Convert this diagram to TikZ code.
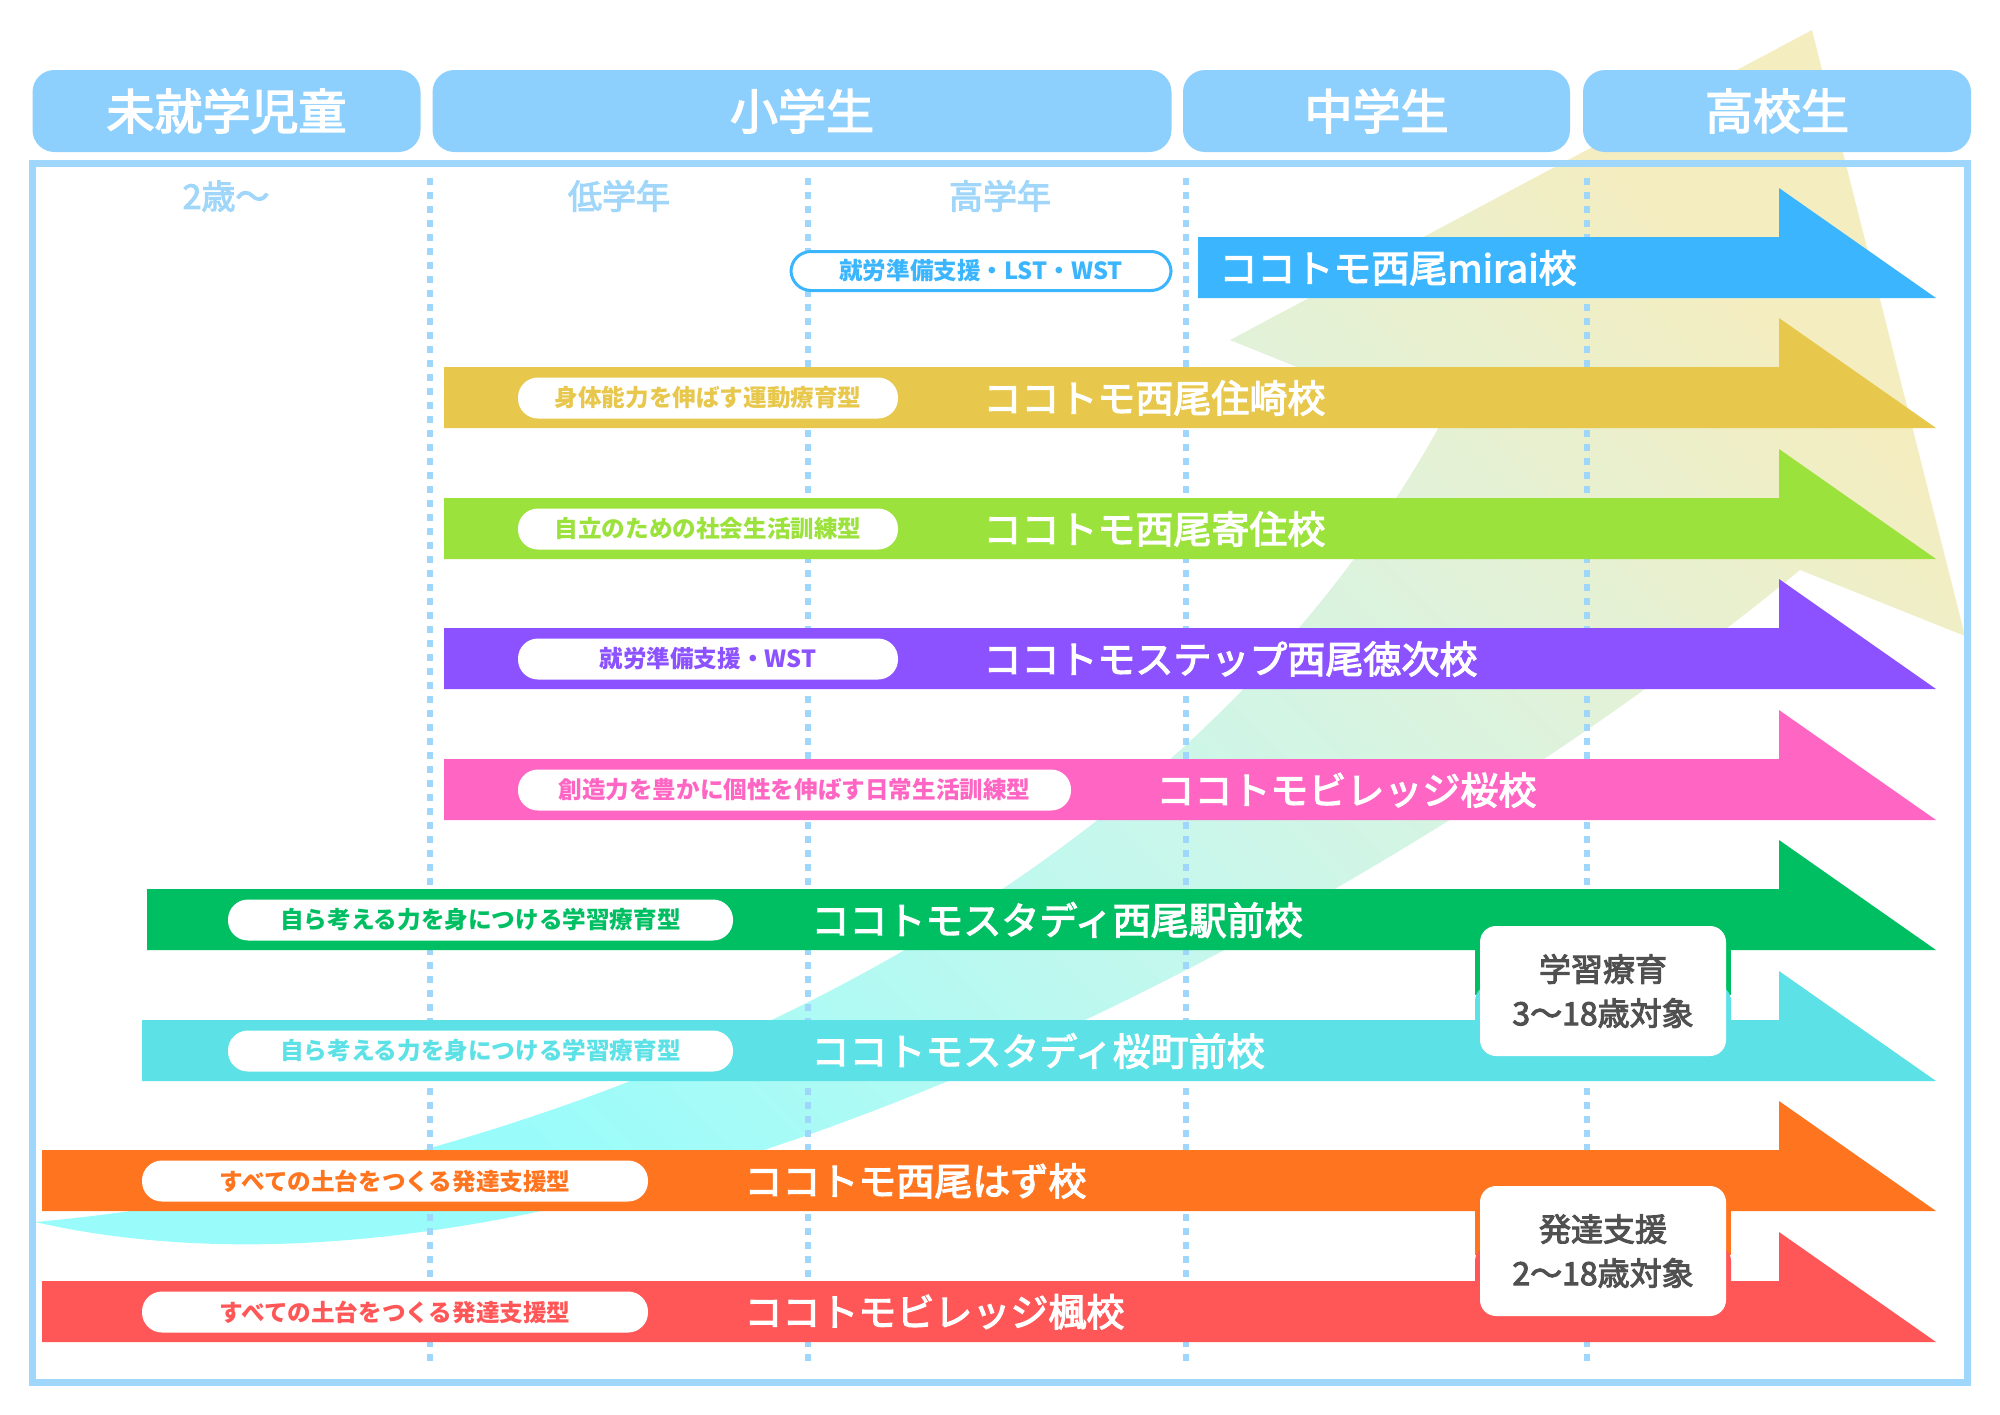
\documentclass[tikz,border=0pt]{standalone}
\usepackage{fontspec}
\setmainfont{Noto Sans CJK JP}
\newfontfamily\medfont{Noto Sans CJK JP}[FakeBold=3]
\usepackage{tikz}
\definecolor{hdrblue}{RGB}{142,208,253}
\definecolor{framblue}{RGB}{158,214,252}
\definecolor{lblblue}{RGB}{160,214,250}
\definecolor{miraiblue}{RGB}{59,182,254}
\definecolor{sumiyellow}{RGB}{232,200,76}
\definecolor{yorilime}{RGB}{156,226,60}
\definecolor{steppurple}{RGB}{140,82,255}
\definecolor{sakurapink}{RGB}{255,102,196}
\definecolor{ekigreen}{RGB}{0,191,99}
\definecolor{machicyan}{RGB}{92,225,230}
\definecolor{hazuorange}{RGB}{255,117,31}
\definecolor{kaedered}{RGB}{255,87,87}
\definecolor{boxgray}{RGB}{80,80,80}
\definecolor{swcyan}{RGB}{154,252,250}
\definecolor{swmint}{RGB}{200,247,236}
\definecolor{swgreen}{RGB}{224,242,218}
\definecolor{swyellow}{RGB}{244,237,192}
\pgfdeclarehorizontalshading{growth}{100bp}{color(0bp)=(swcyan); color(30bp)=(swcyan);
  color(50bp)=(swmint); color(62bp)=(swgreen); color(75bp)=(swyellow); color(100bp)=(swyellow)}

\begin{document}
\begin{tikzpicture}[x=0.5pt, y=-0.5pt,
  hdr/.style={fill=hdrblue, rounded corners=11pt, minimum height=41pt, inner sep=0pt,
              text=white, font=\medfont\fontsize{24}{24}\selectfont},
  collbl/.style={text=lblblue, inner sep=0pt, font=\medfont\fontsize{17}{17}\selectfont},
  stage/.style={draw=framblue, line width=3pt, dash pattern=on 3.5pt off 3.5pt},
  pill/.style={fill=white, rounded corners=10pt, minimum height=20.5pt, inner sep=0pt,
               font=\bfseries\fontsize{11.8}{12}\selectfont},
  ttl/.style={anchor=west, text=white, inner sep=0pt, font=\medfont\fontsize{19}{19}\selectfont},
  agebox/.style={fill=white, rounded corners=8pt, minimum width=123pt, minimum height=65pt,
                 align=center, text=boxgray, font=\medfont\fontsize{16}{22}\selectfont}]
  \useasboundingbox (0,0) rectangle (2000,1414);

  % growth swoosh in the background
  \shade[shading=growth, shading angle=45] (1812,30) -- (1965,636) -- (1800,570)
    .. controls (1400,900) and (600,1350) .. (35,1222)
    .. controls (500,1180) and (1150,950) .. (1440,425) -- (1230,340) -- cycle;

  % frame and school stages
  \draw[framblue, line width=3.5pt] (32,163) rectangle (1967,1382);
  \node[hdr, minimum width=194pt] (hdrpre) at (226.5,111) {未就学児童};
  \node[hdr, minimum width=369.5pt] (hdrelem) at (802,111) {小学生};
  \node[hdr, minimum width=193.5pt] (hdrjun) at (1376.5,111) {中学生};
  \node[hdr, minimum width=194pt] (hdrhigh) at (1777,111) {高校生};

  \node[collbl] (age2) at (226,196) {2歳～};
  \node[collbl] (lower) at (619,196) {低学年};
  \node[collbl] (upper) at (1000,196) {高学年};

  \coordinate (d1t) at (430,178);  \coordinate (d1b) at (430,1368);
  \coordinate (d2t) at (808,178);  \coordinate (d2b) at (808,1368);
  \coordinate (d3t) at (1186,178); \coordinate (d3b) at (1186,1368);
  \coordinate (d4t) at (1587,178); \coordinate (d4b) at (1587,1368);
  \draw[stage] (d1t) -- (d1b);
  \draw[stage] (d2t) -- (d2b);
  \draw[stage] (d3t) -- (d3b);
  \draw[stage] (d4t) -- (d4b);

  % school arrows
  \fill[miraiblue] (1198,237) -- (1779,237) -- (1779,188) -- (1936,298) -- (1198,298) -- cycle;
  \fill[sumiyellow] (444,367) -- (1779,367) -- (1779,318) -- (1936,428) -- (444,428) -- cycle;
  \fill[yorilime] (444,498) -- (1779,498) -- (1779,449) -- (1936,559) -- (444,559) -- cycle;
  \fill[steppurple] (444,628) -- (1779,628) -- (1779,579) -- (1936,689) -- (444,689) -- cycle;
  \fill[sakurapink] (444,759) -- (1779,759) -- (1779,710) -- (1936,820) -- (444,820) -- cycle;
  \fill[ekigreen] (147,889) -- (1779,889) -- (1779,840) -- (1936,950) -- (147,950) -- cycle;
  \fill[machicyan] (142,1020) -- (1779,1020) -- (1779,971) -- (1936,1081) -- (142,1081) -- cycle;
  \fill[hazuorange] (42,1150) -- (1779,1150) -- (1779,1101) -- (1936,1211) -- (42,1211) -- cycle;
  \fill[kaedered] (42,1281) -- (1779,1281) -- (1779,1232) -- (1936,1342) -- (42,1342) -- cycle;

  % programme pills
  \node[pill, draw=miraiblue, line width=1.5pt, minimum width=190pt, minimum height=19.5pt,
        text=miraiblue] (pmirai) at (981,271) {就労準備支援・LST・WST};
  \node[pill, minimum width=190pt, text=sumiyellow] (psumi) at (708,398) {身体能力を伸ばす運動療育型};
  \node[pill, minimum width=190pt, text=yorilime] (pyori) at (708,529) {自立のための社会生活訓練型};
  \node[pill, minimum width=190pt, text=steppurple] (pstep) at (708,659) {就労準備支援・WST};
  \node[pill, minimum width=276.5pt, text=sakurapink] (psakura) at (794.5,790) {創造力を豊かに個性を伸ばす日常生活訓練型};
  \node[pill, minimum width=252.5pt, text=ekigreen] (peki) at (480.5,920) {自ら考える力を身につける学習療育型};
  \node[pill, minimum width=252.5pt, text=machicyan] (pmachi) at (480.5,1051) {自ら考える力を身につける学習療育型};
  \node[pill, minimum width=253pt, text=hazuorange] (phazu) at (395,1181) {すべての土台をつくる発達支援型};
  \node[pill, minimum width=253pt, text=kaedered] (pkaede) at (395,1312) {すべての土台をつくる発達支援型};

  % school names
  \node[ttl] (tmirai) at (1219,268) {ココトモ西尾mirai校};
  \node[ttl] (tsumi) at (983,398) {ココトモ西尾住崎校};
  \node[ttl] (tyori) at (983,529) {ココトモ西尾寄住校};
  \node[ttl] (tstep) at (983,659) {ココトモステップ西尾徳次校};
  \node[ttl] (tsakura) at (1156,790) {ココトモビレッジ桜校};
  \node[ttl] (teki) at (811,920) {ココトモスタディ西尾駅前校};
  \node[ttl] (tmachi) at (811,1051) {ココトモスタディ桜町前校};
  \node[ttl] (thazu) at (744,1181) {ココトモ西尾はず校};
  \node[ttl] (tkaede) at (744,1312) {ココトモビレッジ楓校};

  % age range boxes
  \fill[ekigreen] (1475,945) rectangle (1731,995);
  \fill[machicyan, rounded corners=8pt] (1475,985) rectangle (1731,1060);
  \fill[hazuorange] (1475,1205) rectangle (1731,1255);
  \fill[kaedered, rounded corners=8pt] (1475,1245) rectangle (1731,1320);
  \node[agebox] (study) at (1603,991) {学習療育\\3～18歳対象};
  \node[agebox] (devel) at (1603,1251) {発達支援\\2～18歳対象};
\end{tikzpicture}
\end{document}
